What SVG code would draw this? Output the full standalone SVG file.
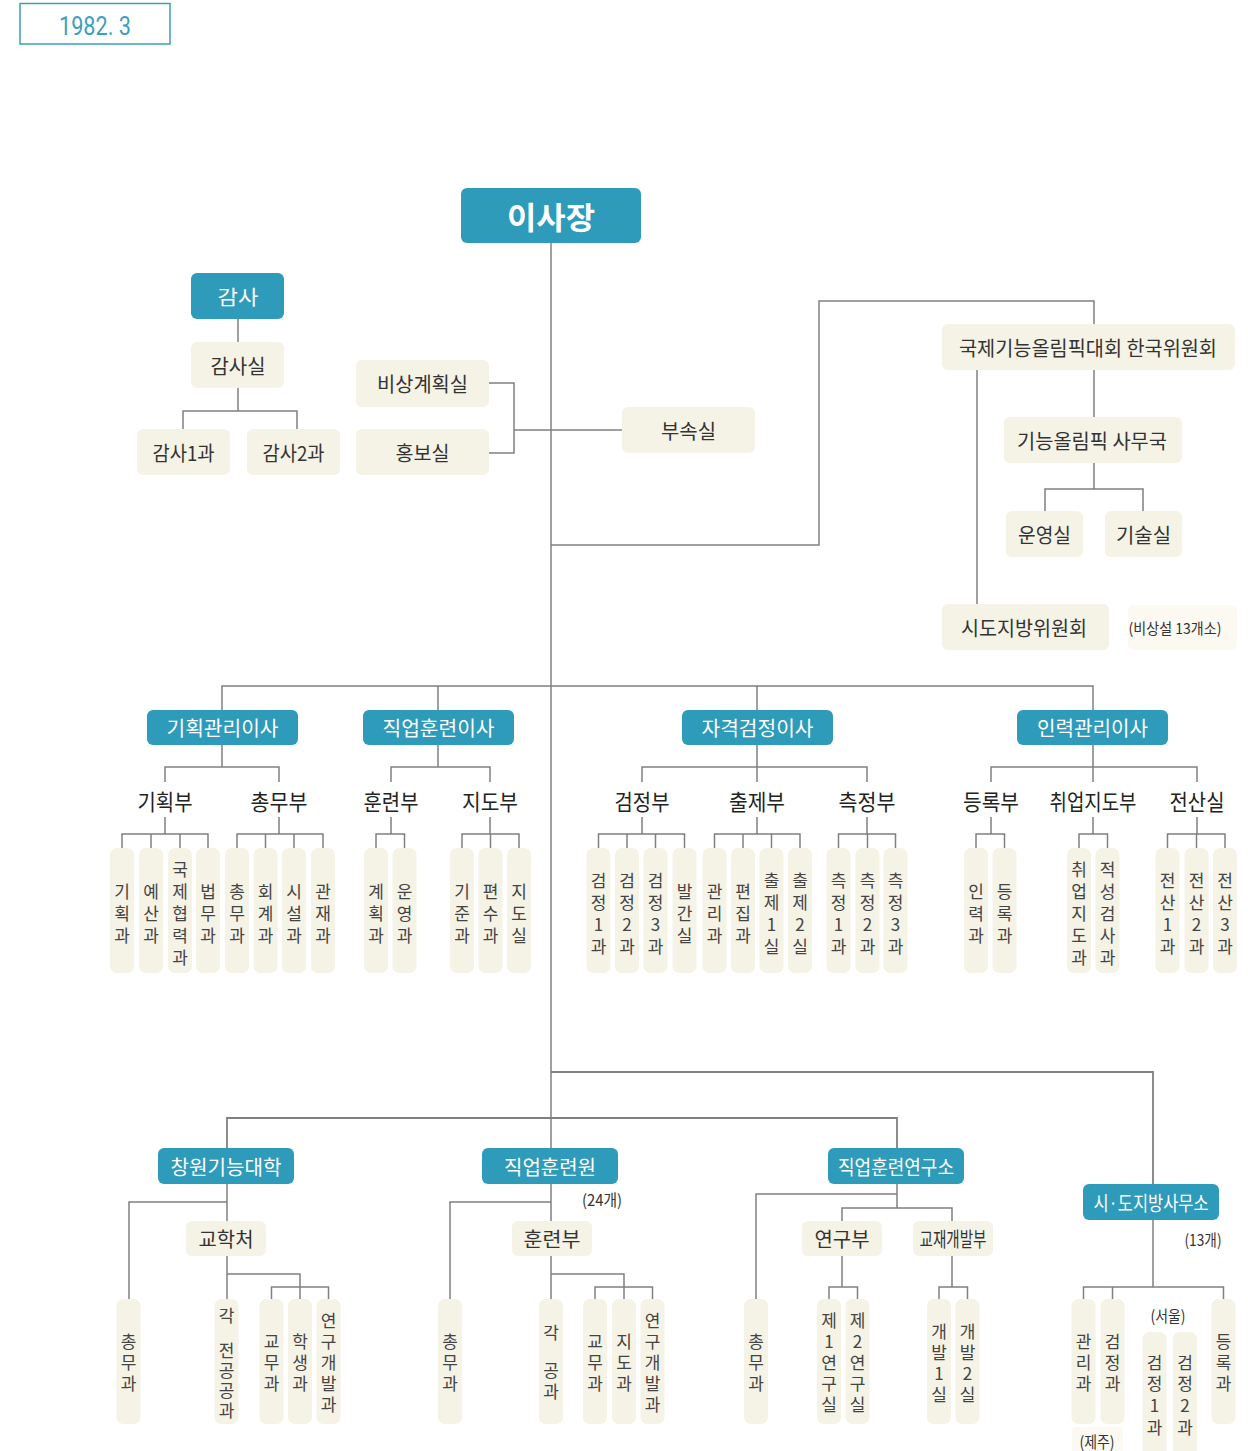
<svg xmlns="http://www.w3.org/2000/svg" width="1248" height="1451" viewBox="0 0 1248 1451">
<style>
.t{fill:#2e9bba}
.b{fill:#f5f2e6}
.f{fill:#fbf9f2}
.ln{fill:none;stroke:#808080;stroke-width:1.5}
text{font-family:"Noto Sans CJK KR","Noto Sans",sans-serif;text-anchor:middle;dominant-baseline:central}
.w{fill:#fff;font-size:20px}
.d{fill:#333;font-size:20px}
.h{fill:#222;font-size:22px}
.s{fill:#333;font-size:15px}
.v text{fill:#444;font-size:17px;writing-mode:vertical-rl;text-orientation:upright;letter-spacing:5px}
.v2 text{fill:#444;font-size:17px;writing-mode:vertical-rl;text-orientation:upright;letter-spacing:4px}
</style>
<rect x="20" y="3.5" width="150" height="40.5" fill="#fff" stroke="#3a9fc0" stroke-width="1.5"/>
<text x="95" y="26" style="font-family:Roboto,'Liberation Sans',sans-serif;font-size:26px;fill:#3a9fc0" textLength="72" lengthAdjust="spacingAndGlyphs">1982. 3</text>

<g id="connectors" class="ln">
<path d="M551 243V1148"/>
<path d="M238 319V343M238 388V411M183 431V411H297V431"/>
<path d="M489 383H514V453H489M514 430H622"/>
<path d="M551 545H819V301H1094V324M1094 370V417M1094 463V489M1045 511V489H1143V511M977 370V604"/>
<path d="M222 710V686H1093V710M438 686V710M757 686V710"/>
<path d="M222 745V767M165 782V767H279V782"/>
<path d="M165 817V834M122 848V834H208V848M151 834V848M180 834V848"/>
<path d="M279 817V834M237 848V834H323V848M265.5 834V848M294 834V848"/>
<path d="M438 745V767M391 782V767H490V782"/>
<path d="M391 817V834M376 848V834H404.5V848"/>
<path d="M490 817V834M462 848V834H519V848M490.5 834V848"/>
<path d="M757 745V782M642 782V767H867V782"/>
<path d="M642 817V834M598.5 848V834H684.5V848M627 834V848M655.5 834V848"/>
<path d="M757 817V834M714.5 848V834H800V848M743 834V848M771.5 834V848"/>
<path d="M867 817V834M838.5 848V834H895.5V848M867.5 834V848"/>
<path d="M1093 745V782M991 782V767H1197V782"/>
<path d="M991 817V834M976 848V834H1004.5V848"/>
<path d="M1093 817V834M1079 848V834H1107.5V848"/>
<path d="M1197 817V834M1167.5 848V834H1225V848M1196.5 834V848"/>
<path d="M551 1072H1153V1184" style="stroke-width:1.8"/>
<path d="M227 1148V1118H897V1148" style="stroke-width:1.8"/>
<path d="M227 1184V1221M129 1299V1202H227M227 1256V1299M227 1274H300V1299M271.5 1299V1287H328.5V1299"/>
<path d="M551 1184V1221M450 1299V1202H551M551 1256V1299M551 1274H624V1299M595 1299V1287H652.5V1299"/>
<path d="M897 1184V1208M756 1299V1194H897M842 1221V1208H952V1221M842 1256V1287M829 1299V1287H857.5V1299M952 1256V1287M939 1299V1287H967.5V1299"/>
<path d="M1153 1220V1287M1083.5 1299V1287H1223.5V1299M1112.5 1287V1299"/>
</g>

<g id="n-isajang"><rect class="t" x="461" y="188" width="180" height="55" rx="6"/><text x="551" y="215" style="fill:#fff;font-size:31px;font-weight:bold" textLength="88" lengthAdjust="spacingAndGlyphs">이사장</text></g>
<g id="n-gamsa"><rect class="t" x="191" y="273" width="93" height="46" rx="6"/><text class="w" x="238" y="296" textLength="41" lengthAdjust="spacingAndGlyphs">감사</text></g>
<g id="n-gamsasil"><rect class="b" x="191" y="342" width="93" height="46" rx="6"/><text class="d" x="238" y="365" textLength="55" lengthAdjust="spacingAndGlyphs">감사실</text></g>
<g id="n-gamsa1"><rect class="b" x="137" y="429" width="93" height="46" rx="6"/><text class="d" x="183.5" y="452" textLength="62" lengthAdjust="spacingAndGlyphs">감사1과</text></g>
<g id="n-gamsa2"><rect class="b" x="247" y="429" width="93" height="46" rx="6"/><text class="d" x="293.5" y="452" textLength="62" lengthAdjust="spacingAndGlyphs">감사2과</text></g>
<g id="n-bisang"><rect class="b" x="356" y="360" width="133" height="47" rx="6"/><text class="d" x="422.5" y="383" textLength="91" lengthAdjust="spacingAndGlyphs">비상계획실</text></g>
<g id="n-hongbo"><rect class="b" x="356" y="429" width="133" height="46" rx="6"/><text class="d" x="422.5" y="452" textLength="54" lengthAdjust="spacingAndGlyphs">홍보실</text></g>
<g id="n-busok"><rect class="b" x="622" y="407" width="133" height="46" rx="6"/><text class="d" x="688.5" y="430" textLength="55" lengthAdjust="spacingAndGlyphs">부속실</text></g>
<g id="n-kukje"><rect class="b" x="942" y="324" width="293" height="46" rx="6"/><text class="d" x="1088" y="347" textLength="258" lengthAdjust="spacingAndGlyphs">국제기능올림픽대회 한국위원회</text></g>
<g id="n-samuguk"><rect class="b" x="1004" y="417" width="178" height="46" rx="6"/><text class="d" x="1092" y="440" textLength="150" lengthAdjust="spacingAndGlyphs">기능올림픽 사무국</text></g>
<g id="n-unyeong"><rect class="b" x="1006" y="511" width="77" height="46" rx="6"/><text class="d" x="1044.5" y="534" textLength="53" lengthAdjust="spacingAndGlyphs">운영실</text></g>
<g id="n-gisul"><rect class="b" x="1105" y="511" width="77" height="46" rx="6"/><text class="d" x="1143.5" y="534" textLength="55" lengthAdjust="spacingAndGlyphs">기술실</text></g>
<g id="n-sido-wiwon"><rect class="b" x="942" y="604" width="167" height="46" rx="6"/><text class="d" x="1024" y="627" textLength="126" lengthAdjust="spacingAndGlyphs">시도지방위원회</text></g>
<g id="n-bisangseol"><rect class="f" x="1128" y="605" width="109" height="45" rx="6"/><text class="s" x="1175" y="627" textLength="93" lengthAdjust="spacingAndGlyphs">(비상설 13개소)</text></g>

<g id="n-gihoek-isa"><rect class="t" x="147" y="710" width="151" height="35" rx="6"/><text class="w" x="222.5" y="727.5" textLength="112" lengthAdjust="spacingAndGlyphs">기획관리이사</text></g>
<g id="n-jikup-isa"><rect class="t" x="363" y="710" width="151" height="35" rx="6"/><text class="w" x="438.5" y="727.5" textLength="112" lengthAdjust="spacingAndGlyphs">직업훈련이사</text></g>
<g id="n-jagyeok-isa"><rect class="t" x="682" y="710" width="151" height="35" rx="6"/><text class="w" x="757.5" y="727.5" textLength="112" lengthAdjust="spacingAndGlyphs">자격검정이사</text></g>
<g id="n-inryeok-isa"><rect class="t" x="1017" y="710" width="151" height="35" rx="6"/><text class="w" x="1092.5" y="727.5" textLength="111" lengthAdjust="spacingAndGlyphs">인력관리이사</text></g>

<g id="n-depts">
<text class="h" x="165" y="800" textLength="55" lengthAdjust="spacingAndGlyphs">기획부</text>
<text class="h" x="279" y="800" textLength="57" lengthAdjust="spacingAndGlyphs">총무부</text>
<text class="h" x="391" y="800" textLength="55" lengthAdjust="spacingAndGlyphs">훈련부</text>
<text class="h" x="490" y="800" textLength="56" lengthAdjust="spacingAndGlyphs">지도부</text>
<text class="h" x="642" y="800" textLength="55" lengthAdjust="spacingAndGlyphs">검정부</text>
<text class="h" x="757" y="800" textLength="56" lengthAdjust="spacingAndGlyphs">출제부</text>
<text class="h" x="867" y="800" textLength="57" lengthAdjust="spacingAndGlyphs">측정부</text>
<text class="h" x="991" y="800" textLength="56" lengthAdjust="spacingAndGlyphs">등록부</text>
<text class="h" x="1093" y="800" textLength="87" lengthAdjust="spacingAndGlyphs">취업지도부</text>
<text class="h" x="1197" y="800" textLength="55" lengthAdjust="spacingAndGlyphs">전산실</text>
</g>

<g id="n-row1-boxes" class="b">
<rect x="110" y="848" width="24" height="125" rx="7"/>
<rect x="139" y="848" width="24" height="125" rx="7"/>
<rect x="168" y="848" width="24" height="125" rx="7"/>
<rect x="196" y="848" width="24" height="125" rx="7"/>
<rect x="225" y="848" width="24" height="125" rx="7"/>
<rect x="253.5" y="848" width="24" height="125" rx="7"/>
<rect x="282" y="848" width="24" height="125" rx="7"/>
<rect x="311" y="848" width="24" height="125" rx="7"/>
<rect x="364" y="848" width="24" height="125" rx="7"/>
<rect x="392.5" y="848" width="24" height="125" rx="7"/>
<rect x="450" y="848" width="24" height="125" rx="7"/>
<rect x="478.5" y="848" width="24" height="125" rx="7"/>
<rect x="507" y="848" width="24" height="125" rx="7"/>
<rect x="586.5" y="848" width="24" height="125" rx="7"/>
<rect x="615" y="848" width="24" height="125" rx="7"/>
<rect x="643.5" y="848" width="24" height="125" rx="7"/>
<rect x="672.5" y="848" width="24" height="125" rx="7"/>
<rect x="702.5" y="848" width="24" height="125" rx="7"/>
<rect x="731" y="848" width="24" height="125" rx="7"/>
<rect x="759.5" y="848" width="24" height="125" rx="7"/>
<rect x="788" y="848" width="24" height="125" rx="7"/>
<rect x="826.5" y="848" width="24" height="125" rx="7"/>
<rect x="855.5" y="848" width="24" height="125" rx="7"/>
<rect x="883.5" y="848" width="24" height="125" rx="7"/>
<rect x="964" y="848" width="24" height="125" rx="7"/>
<rect x="992.5" y="848" width="24" height="125" rx="7"/>
<rect x="1067" y="848" width="24" height="125" rx="7"/>
<rect x="1095.5" y="848" width="24" height="125" rx="7"/>
<rect x="1155.5" y="848" width="24" height="125" rx="7"/>
<rect x="1184.5" y="848" width="24" height="125" rx="7"/>
<rect x="1213" y="848" width="24" height="125" rx="7"/>
</g>
<g id="n-row1-labels" class="v">
<text x="122" y="916">기획과</text>
<text x="151" y="916">예산과</text>
<text x="180" y="916">국제협력과</text>
<text x="208" y="916">법무과</text>
<text x="237" y="916">총무과</text>
<text x="265.5" y="916">회계과</text>
<text x="294" y="916">시설과</text>
<text x="323" y="916">관재과</text>
<text x="376" y="916">계획과</text>
<text x="404.5" y="916">운영과</text>
<text x="462" y="916">기준과</text>
<text x="490.5" y="916">편수과</text>
<text x="519" y="916">지도실</text>
<text x="598.5" y="916">검정1과</text>
<text x="627" y="916">검정2과</text>
<text x="655.5" y="916">검정3과</text>
<text x="684.5" y="916">발간실</text>
<text x="714.5" y="916">관리과</text>
<text x="743" y="916">편집과</text>
<text x="771.5" y="916">출제1실</text>
<text x="800" y="916">출제2실</text>
<text x="838.5" y="916">측정1과</text>
<text x="867.5" y="916">측정2과</text>
<text x="895.5" y="916">측정3과</text>
<text x="976" y="916">인력과</text>
<text x="1004.5" y="916">등록과</text>
<text x="1079" y="916">취업지도과</text>
<text x="1107.5" y="916">적성검사과</text>
<text x="1167.5" y="916">전산1과</text>
<text x="1196.5" y="916">전산2과</text>
<text x="1225" y="916">전산3과</text>
</g>

<g id="n-changwon"><rect class="t" x="158" y="1148" width="136" height="36" rx="6"/><text class="w" x="226" y="1166" textLength="111" lengthAdjust="spacingAndGlyphs">창원기능대학</text></g>
<g id="n-jikupwon"><rect class="t" x="482" y="1148" width="136" height="36" rx="6"/><text class="w" x="550" y="1166" textLength="92" lengthAdjust="spacingAndGlyphs">직업훈련원</text></g>
<g id="n-yeonguso"><rect class="t" x="828" y="1148" width="136" height="36" rx="6"/><text class="w" x="896" y="1166" textLength="116" lengthAdjust="spacingAndGlyphs">직업훈련연구소</text></g>
<g id="n-sido-samuso"><rect class="t" x="1083" y="1184" width="136" height="36" rx="6"/><text class="w" x="1151" y="1202" textLength="115" lengthAdjust="spacingAndGlyphs">시·도지방사무소</text></g>
<text class="s" x="602" y="1199" style="font-size:16px" textLength="40" lengthAdjust="spacingAndGlyphs">(24개)</text>
<text class="s" x="1203" y="1239" style="font-size:16px" textLength="37" lengthAdjust="spacingAndGlyphs">(13개)</text>

<g id="n-gyohak"><rect class="b" x="186" y="1221" width="80" height="35" rx="6"/><text class="d" x="226" y="1238.5" textLength="55" lengthAdjust="spacingAndGlyphs">교학처</text></g>
<g id="n-hunryeon2"><rect class="b" x="512" y="1221" width="80" height="35" rx="6"/><text class="d" x="552" y="1238.5" textLength="57" lengthAdjust="spacingAndGlyphs">훈련부</text></g>
<g id="n-yeongu"><rect class="b" x="802" y="1221" width="80" height="35" rx="6"/><text class="d" x="842" y="1238.5" textLength="55" lengthAdjust="spacingAndGlyphs">연구부</text></g>
<g id="n-gyojae"><rect class="b" x="913" y="1221" width="80" height="35" rx="6"/><text class="d" x="953" y="1238.5" textLength="67" lengthAdjust="spacingAndGlyphs">교재개발부</text></g>

<g id="n-row2-boxes" class="b">
<rect x="116.5" y="1299" width="24" height="125" rx="7"/>
<rect x="214.5" y="1299" width="24" height="125" rx="7"/>
<rect x="259.5" y="1299" width="24" height="125" rx="7"/>
<rect x="288" y="1299" width="24" height="125" rx="7"/>
<rect x="316.5" y="1299" width="24" height="125" rx="7"/>
<rect x="438" y="1299" width="24" height="125" rx="7"/>
<rect x="539" y="1299" width="24" height="125" rx="7"/>
<rect x="583" y="1299" width="24" height="125" rx="7"/>
<rect x="612" y="1299" width="24" height="125" rx="7"/>
<rect x="640.5" y="1299" width="24" height="125" rx="7"/>
<rect x="744" y="1299" width="24" height="125" rx="7"/>
<rect x="817" y="1299" width="24" height="125" rx="7"/>
<rect x="845.5" y="1299" width="24" height="125" rx="7"/>
<rect x="927" y="1299" width="24" height="125" rx="7"/>
<rect x="955.5" y="1299" width="24" height="125" rx="7"/>
<rect x="1071.5" y="1299" width="24" height="125" rx="7"/>
<rect x="1100.5" y="1299" width="24" height="125" rx="7"/>
<rect x="1142.5" y="1332" width="24" height="130" rx="7"/>
<rect x="1173" y="1332" width="24" height="130" rx="7"/>
<rect x="1211.5" y="1299" width="24" height="125" rx="7"/>
</g>
<rect class="f" x="1072" y="1427" width="51" height="30" rx="4"/>
<g id="n-row2-labels" class="v2">
<text x="128.5" y="1365">총무과</text>
<text x="226.5" y="1318">각</text>
<text x="226.5" y="1382" style="letter-spacing:3px">전공공과</text>
<text x="271.5" y="1365">교무과</text>
<text x="300" y="1365">학생과</text>
<text x="328.5" y="1365">연구개발과</text>
<text x="450" y="1365">총무과</text>
<text x="551" y="1335">각</text>
<text x="551" y="1383">공과</text>
<text x="595" y="1365">교무과</text>
<text x="624" y="1365">지도과</text>
<text x="652.5" y="1365">연구개발과</text>
<text x="756" y="1365">총무과</text>
<text x="829" y="1365">제1연구실</text>
<text x="857.5" y="1365">제2연구실</text>
<text x="939" y="1365">개발1실</text>
<text x="967.5" y="1365">개발2실</text>
<text x="1083.5" y="1365">관리과</text>
<text x="1112.5" y="1365">검정과</text>
<text x="1154.5" y="1397" style="letter-spacing:4.7px">검정1과</text>
<text x="1185" y="1397" style="letter-spacing:4.7px">검정2과</text>
<text x="1223.5" y="1365">등록과</text>
</g>
<text class="s" x="1168" y="1315" style="font-size:16px" textLength="35" lengthAdjust="spacingAndGlyphs">(서울)</text>
<text class="s" x="1097" y="1441" style="font-size:16px" textLength="35" lengthAdjust="spacingAndGlyphs">(제주)</text>
</svg>
